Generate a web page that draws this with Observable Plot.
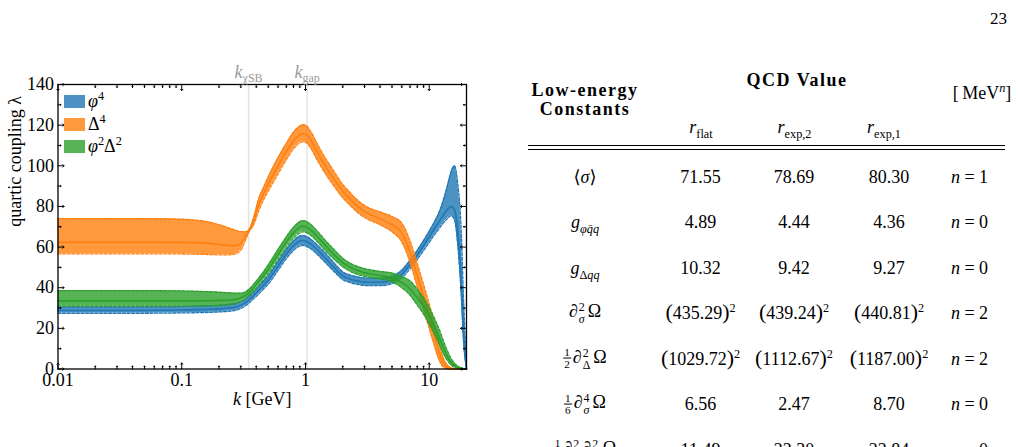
<!DOCTYPE html>
<html>
<head>
<meta charset="utf-8">
<script src="https://cdn.jsdelivr.net/npm/d3@7"></script>
<script src="https://cdn.jsdelivr.net/npm/@observablehq/plot@0.6"></script>
<style>
  html, body { margin: 0; padding: 0; background: #fff; }
  body { width: 1018px; height: 447px; overflow: hidden; position: relative;
         font-family: "Liberation Serif", "DejaVu Serif", serif; color: #000; }
  #chart { position: absolute; left: 0; top: 0; }
  #legend { position: absolute; left: 64px; top: 90.5px; }
  .cell { position: absolute; transform: translate(-50%, -50%); white-space: nowrap;
          font-size: 18px; line-height: 1; }
  .hdr { font-weight: bold; letter-spacing: 1.5px; }
  sub, sup { font-size: 0.68em; line-height: 0; }
  .ss { display: inline-flex; flex-direction: column; vertical-align: middle;
        font-size: 0.66em; line-height: 1.05; margin-left: 1px; margin-right: 3px; }
  .frac { display: inline-flex; flex-direction: column; vertical-align: middle;
          font-size: 0.62em; line-height: 1; text-align: center; margin-right: 2px; }
  .frac .num { border-bottom: 0.8px solid #000; padding: 0 1px; }
  .bp { font-size: 1.22em; line-height: 0; }
  .rule { position: absolute; left: 528px; width: 477px; height: 1px; background: #000; }
  #page { position: absolute; left: 990px; top: 9.5px; font-size: 17px; line-height: 1; }
</style>
</head>
<body>
<div id="chart"></div>
<div id="legend"></div>
<div id="table"></div>
<div id="page">23</div>
<script>
// RG scale k in GeV
const k = [0.01, 0.02, 0.04, 0.07, 0.1, 0.13, 0.17, 0.2, 0.24, 0.27, 0.3, 0.33, 0.35, 0.38,
           0.42, 0.46, 0.5, 0.6, 0.7, 0.8, 0.9, 0.95, 1.0, 1.1, 1.24, 1.4, 1.7, 2.0, 2.3, 2.7,
           3.2, 4.0, 5.0, 6.0, 7.0, 8.0, 9.0, 10, 11, 12, 13, 14, 15, 16, 17, 18, 19, 20];

// phi^4 coupling: lower edge, central value, upper edge
const phi4Lower   = [27.4, 27.4, 27.4, 27.5, 27.6, 27.7, 27.9, 28.1, 28.4, 28.8, 29.8, 31.2, 32.5, 34.5,
                     37.0, 39.5, 41.8, 48.5, 54.3, 58.3, 60.5, 60.8, 60.5, 59.2, 56.5, 53.3, 48.0, 44.0, 42.5, 41.5,
                     41.0, 41.0, 42.0, 44.8, 49.3, 53.8, 58.3, 62.3, 66.0, 69.0, 71.8, 74.0, 75.5, 73.5, 61.0, 40.0, 12.0, 0];
const phi4Central = [28.8, 28.8, 28.8, 28.9, 29.0, 29.2, 29.4, 29.6, 30.0, 30.4, 31.3, 32.8, 34.0, 36.0,
                     38.8, 41.3, 43.7, 50.5, 56.5, 60.7, 63.0, 63.2, 63.0, 61.6, 58.8, 55.5, 50.0, 45.8, 44.2, 43.2,
                     42.7, 42.7, 43.7, 46.6, 51.3, 56.0, 60.7, 65.0, 69.0, 72.5, 75.8, 78.5, 80.0, 78.3, 68.0, 48.0, 18.0, 0];
const phi4Upper   = [30.6, 30.6, 30.6, 30.7, 30.8, 31.0, 31.2, 31.4, 31.8, 32.2, 33.2, 34.7, 36.0, 38.0,
                     40.8, 43.3, 45.8, 52.8, 58.8, 63.0, 65.4, 65.7, 65.4, 64.0, 61.2, 58.0, 52.3, 47.8, 46.2, 45.2,
                     44.7, 44.7, 45.7, 48.6, 53.5, 58.3, 63.2, 67.8, 72.3, 77.0, 83.0, 90.0, 97.0, 100.0, 91.0, 72.0, 32.0, 0];

// Delta^4 coupling
const delta4Lower   = [56.7, 56.7, 56.7, 56.7, 56.6, 56.5, 56.3, 56.2, 56.2, 56.6, 58.5, 64.0, 67.6, 70.8,
                       78.0, 83.5, 87.5, 96.0, 103.0, 108.3, 111.3, 111.8, 111.6, 108.8, 103.0, 97.5, 90.0, 84.3, 80.5, 76.5,
                       73.6, 71.0, 67.5, 62.5, 52.5, 40.5, 29.5, 20.0, 11.5, 4.5, 1.0, 0.1, 0, 0, 0, 0, 0, 0];
const delta4Central = [62.4, 62.4, 62.4, 62.4, 62.3, 62.2, 61.8, 61.3, 60.8, 60.7, 61.8, 65.5, 68.0, 72.5,
                       81.0, 86.5, 91.0, 100.0, 107.0, 112.3, 115.3, 115.8, 115.6, 112.8, 107.0, 101.3, 93.5, 87.5, 83.5, 79.5,
                       76.5, 74.0, 71.0, 67.0, 57.5, 46.0, 35.5, 26.0, 16.5, 8.5, 3.0, 0.8, 0.2, 0, 0, 0, 0, 0];
const delta4Upper   = [74.0, 74.0, 74.0, 73.9, 73.7, 73.2, 72.2, 71.0, 69.4, 68.3, 67.6, 67.6, 68.6, 74.3,
                       84.0, 89.5, 94.5, 104.0, 111.0, 116.5, 119.6, 120.2, 120.0, 117.0, 111.0, 105.3, 97.2, 90.8, 86.7, 82.5,
                       79.5, 77.3, 75.0, 71.8, 63.0, 52.0, 41.5, 32.0, 22.0, 13.0, 5.5, 2.0, 0.6, 0.1, 0, 0, 0, 0];

// phi^2 Delta^2 coupling
const mixedLower   = [31.0, 31.0, 31.0, 31.0, 31.0, 31.0, 31.1, 31.2, 31.6, 32.1, 33.2, 34.8, 36.2, 38.3,
                      41.3, 44.3, 47.0, 54.0, 60.0, 64.3, 67.0, 67.5, 67.3, 65.8, 62.8, 59.3, 54.0, 50.3, 48.0, 46.3,
                      45.3, 44.3, 42.8, 40.0, 36.3, 31.5, 27.0, 22.0, 17.3, 12.3, 7.8, 4.2, 2.0, 0.8, 0.3, 0.1, 0, 0];
const mixedCentral = [33.5, 33.5, 33.5, 33.5, 33.5, 33.5, 33.6, 33.7, 33.9, 34.2, 35.0, 36.3, 37.6, 39.8,
                      43.0, 46.0, 49.0, 56.3, 62.5, 67.0, 69.8, 70.3, 70.0, 68.5, 65.3, 61.8, 56.3, 52.3, 50.0, 48.2,
                      47.0, 46.0, 44.8, 42.5, 39.5, 35.0, 30.8, 26.0, 21.0, 15.8, 10.5, 6.2, 3.3, 1.6, 0.7, 0.3, 0.1, 0];
const mixedUpper   = [38.6, 38.6, 38.6, 38.5, 38.4, 38.2, 38.0, 37.8, 37.5, 37.3, 37.3, 38.0, 39.2, 41.5,
                      44.8, 48.0, 51.2, 58.8, 65.0, 69.7, 72.5, 73.0, 72.8, 71.2, 68.0, 64.3, 58.8, 54.5, 52.0, 50.2,
                      49.0, 48.0, 47.2, 45.5, 43.3, 39.3, 35.0, 30.3, 25.0, 19.8, 14.0, 9.0, 5.2, 2.8, 1.4, 0.6, 0.2, 0];

const seriesKeys   = ["phi4", "delta4", "mixed"];
const seriesLabels = ["<i>φ</i><sup>4</sup>", "Δ<sup>4</sup>", "<i>φ</i><sup>2</sup>Δ<sup>2</sup>"];
const seriesColors = ["#1f77b4", "#ff7f0e", "#2ca02c"];
const swatchColors = ["#4b91c3", "#ff993e", "#56b356"];

// characteristic scales marked by vertical lines
const scaleK    = [0.347, 1.03];
const scaleMain = ["k", "k"];
const scaleSub  = ["χSB", "gap"];

const xTicks = [0.01, 0.1, 1, 10];
const xTickLabels = ["0.01", "0.1", "1", "10"];
const yTicks = [0, 20, 40, 60, 80, 100, 120, 140];
const yMinor = [10, 30, 50, 70, 90, 110, 130];
const xMinor = [0.01, 0.1, 1].flatMap(d => [2, 3, 4, 5, 6, 7, 8, 9].map(m => m * d));
const xLabel = ["k", " [GeV]"];
const yLabel = "quartic coupling λ";

// table of low-energy constants
const constNames = [
  "⟨<i>σ</i>⟩",
  "<i>g</i><sub><i>φq̄q</i></sub>",
  "<i>g</i><sub>Δ<i>qq</i></sub>",
  "∂<span class='ss'><span>2</span><span><i>σ</i></span></span>Ω",
  "<span class='frac'><span class='num'>1</span><span>2</span></span>∂<span class='ss'><span>2</span><span>Δ</span></span>Ω",
  "<span class='frac'><span class='num'>1</span><span>6</span></span>∂<span class='ss'><span>4</span><span><i>σ</i></span></span>Ω",
  "<span class='frac'><span class='num'>1</span><span>4</span></span>∂<span class='ss'><span>2</span><span><i>σ</i></span></span>∂<span class='ss'><span>2</span><span>Δ</span></span>Ω"
];
const rFlat  = [71.55, 4.89, 10.32, 435.29, 1029.72, 6.56, 11.49];
const rExp2  = [78.69, 4.44, 9.42, 439.24, 1112.67, 2.47, 22.30];
const rExp1  = [80.30, 4.36, 9.27, 440.81, 1187.00, 8.70, 22.84];
const massDim = [1, 0, 0, 2, 2, 0, 0];
const schemeLabels = ["<i>r</i><sub>flat</sub>", "<i>r</i><sub>exp,2</sub>", "<i>r</i><sub>exp,1</sub>"];

// ---------- chart ----------
const curve = "monotone-x";
const bands = [
  {lo: phi4Lower, mid: phi4Central, hi: phi4Upper},
  {lo: delta4Lower, mid: delta4Central, hi: delta4Upper},
  {lo: mixedLower, mid: mixedCentral, hi: mixedUpper}
];

const marks = [Plot.ruleX(scaleK, {stroke: "#e3e3e3", strokeWidth: 1.5})];
bands.forEach((b, s) => {
  const color = seriesColors[s];
  const rows = k.map((kk, i) => ({k: kk, lo: b.lo[i], mid: b.mid[i], hi: b.hi[i]}));
  marks.push(
    Plot.areaY(rows, {x: "k", y1: "lo", y2: "hi", fill: color, fillOpacity: 0.8, curve}),
    Plot.lineY(rows, {x: "k", y: "lo", stroke: color, strokeWidth: 1.3, strokeDasharray: "3,1.6", curve}),
    Plot.lineY(rows, {x: "k", y: "hi", stroke: color, strokeWidth: 1.3, strokeDasharray: "3,1.6", curve}),
    Plot.lineY(rows, {x: "k", y: "mid", stroke: color, strokeWidth: 1.6, curve})
  );
});

// inward ticks on all four sides
const tickOpts = {stroke: "#000", strokeWidth: 1, anchor: "start"};
marks.push(
  Plot.vector(xTicks, {...tickOpts, x: d => d, frameAnchor: "bottom", rotate: 0, length: 6}),
  Plot.vector(xTicks, {...tickOpts, x: d => d, frameAnchor: "top", rotate: 180, length: 6}),
  Plot.vector(xMinor, {...tickOpts, x: d => d, frameAnchor: "bottom", rotate: 0, length: 3}),
  Plot.vector(xMinor, {...tickOpts, x: d => d, frameAnchor: "top", rotate: 180, length: 3}),
  Plot.vector(yTicks, {...tickOpts, y: d => d, frameAnchor: "left", rotate: 90, length: 6}),
  Plot.vector(yTicks, {...tickOpts, y: d => d, frameAnchor: "right", rotate: -90, length: 6}),
  Plot.vector(yMinor, {...tickOpts, y: d => d, frameAnchor: "left", rotate: 90, length: 3}),
  Plot.vector(yMinor, {...tickOpts, y: d => d, frameAnchor: "right", rotate: -90, length: 3}),
  Plot.frame({stroke: "#000", strokeWidth: 1.3}),
  Plot.axisX({ticks: xTicks, tickSize: 0, tickPadding: 4.5, label: null,
              tickFormat: d => xTickLabels[xTicks.indexOf(d)], fill: "#000"}),
  Plot.axisY({ticks: yTicks, tickSize: 0, tickPadding: 4, label: null, fill: "#000"}),
  Plot.text([0], {frameAnchor: "bottom", dy: 35.5, lineAnchor: "bottom", text: () => xLabel.join(""), fill: "#000"}),
  Plot.text([0], {frameAnchor: "left", dx: -37, rotate: -90, lineAnchor: "bottom", text: () => yLabel, fill: "#000"}),
  Plot.text(scaleK, {x: d => d, frameAnchor: "top", dy: -7, lineAnchor: "bottom",
                     text: (d, i) => scaleMain[i] + scaleSub[i], fill: "#9a9a9a"})
);

const svg = Plot.plot({
  width: 490, height: 420,
  marginLeft: 57.5, marginRight: 24, marginTop: 84, marginBottom: 51.5,
  x: {type: "log", domain: [0.01, 20]},
  y: {domain: [0, 140]},
  style: {fontFamily: "'Liberation Serif', serif", fontSize: "18px", background: "transparent", overflow: "visible"},
  marks
});
document.getElementById("chart").appendChild(svg);

// italic symbols and subscripts inside the SVG labels
svg.querySelectorAll("text").forEach(node => {
  const content = node.textContent;
  const t = d3.select(node);
  if (content === xLabel.join("")) {
    t.text(null);
    t.append("tspan").attr("font-style", "italic").text(xLabel[0]);
    t.append("tspan").text(xLabel[1]);
  }
  scaleK.forEach((_, i) => {
    if (content === scaleMain[i] + scaleSub[i]) {
      t.text(null);
      t.append("tspan").attr("font-style", "italic").text(scaleMain[i]);
      t.append("tspan").attr("font-size", 12).attr("dy", 4).text(scaleSub[i]);
    }
  });
});

// ---------- legend ----------
const legend = Plot.legend({
  color: {type: "ordinal", domain: seriesKeys, range: swatchColors},
  swatchWidth: 21, swatchHeight: 13, columns: 1
});
legend.style.fontFamily = "'Liberation Serif', serif";
legend.style.fontSize = "18px";
legend.style.margin = "0";
legend.style.minHeight = "0";
legend.querySelectorAll("svg").forEach((sw, i) => {
  const item = sw.parentNode;
  while (sw.nextSibling) sw.nextSibling.remove();
  sw.style.marginRight = "3px";
  item.style.display = "flex";
  item.style.alignItems = "center";
  item.style.height = "22.5px";
  item.style.paddingBottom = "0";
  item.style.margin = "0";
  const lab = document.createElement("span");
  lab.innerHTML = seriesLabels[i];
  item.appendChild(lab);
});
document.getElementById("legend").appendChild(legend);

// ---------- table ----------
const table = document.getElementById("table");
function cell(html, x, y, cls) {
  const d = document.createElement("div");
  d.className = "cell" + (cls ? " " + cls : "");
  d.style.left = x + "px";
  d.style.top = y + "px";
  d.innerHTML = html;
  table.appendChild(d);
}
function rule(y) {
  const d = document.createElement("div");
  d.className = "rule";
  d.style.top = y + "px";
  table.appendChild(d);
}
const colX = [585, 700.5, 794, 889, 969.5];
const headX = [701, 794.5, 884];
cell("QCD Value", 797, 79.5, "hdr");
cell("Low-energy", 585, 90, "hdr");
cell("Constants", 585, 108.5, "hdr");
cell("[&thinsp;MeV<sup><i>n</i></sup>]", 982, 93);
schemeLabels.forEach((s, j) => cell(s, headX[j], 127));
rule(144.5);
rule(149);

const fmt = (v, n) => n === 2
  ? `<span class="bp">(</span>${v.toFixed(2)}<span class="bp">)</span><sup>2</sup>`
  : v.toFixed(2);
constNames.forEach((name, i) => {
  const y = 176.5 + 45.5 * i;
  cell(name, colX[0], y);
  cell(fmt(rFlat[i], massDim[i]), colX[1], y);
  cell(fmt(rExp2[i], massDim[i]), colX[2], y);
  cell(fmt(rExp1[i], massDim[i]), colX[3], y);
  cell(`<i>n</i> = ${massDim[i]}`, colX[4], y);
});
</script>
</body>
</html>
